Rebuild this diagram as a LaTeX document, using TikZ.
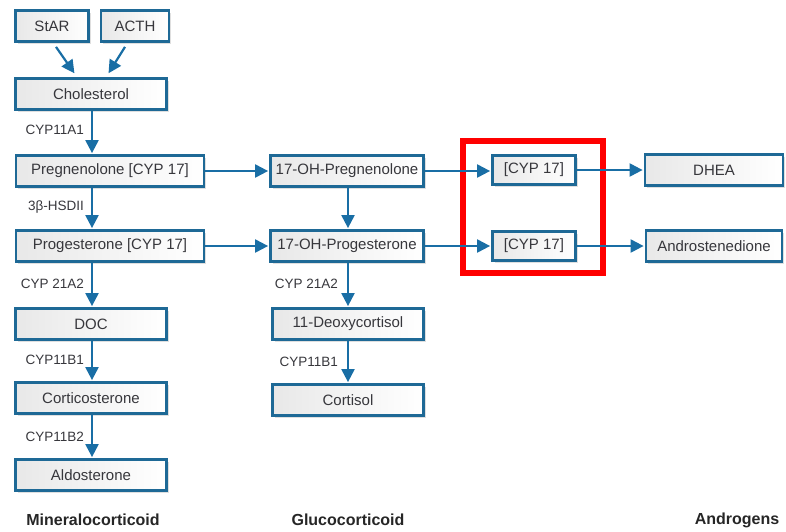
\documentclass[tikz,border=0pt]{standalone}
\usepackage{fontspec}
\setmainfont{Liberation Sans}
\usetikzlibrary{arrows.meta,shadows,calc}
\definecolor{boxblue}{RGB}{30,105,150}
\definecolor{arrblue}{RGB}{25,110,165}
\definecolor{txtgray}{RGB}{55,55,60}
\begin{document}
\begin{tikzpicture}[x=1pt,y=-1pt,
 box/.style={draw=boxblue,line width=2.8pt,left color=black!9,right color=white,
   minimum height=31pt,inner sep=0pt,text=txtgray,font=\fontsize{15}{17}\selectfont,
   drop shadow={opacity=0.25,shadow xshift=2pt,shadow yshift=-2pt}},
 enz/.style={text=txtgray,font=\fontsize{13.5}{15}\selectfont,anchor=east,inner sep=2pt},
 post/.style={-{Triangle[length=13pt,width=13pt]},draw=arrblue,line width=2.2pt,shorten >=1pt},
 group/.style={text=black!85,font=\bfseries\fontsize{16}{18}\selectfont}]

\useasboundingbox (0,0) rectangle (786,531);

% column 1
\node[box,minimum width=73pt] at (52,26) (star) {StAR};
\node[box,minimum width=68pt] at (135,26) (acth) {ACTH};
\node[box,minimum width=151pt] at (91,94) (chol) {Cholesterol};
\node[box,minimum width=188pt] at (110,171) (preg) {Pregnenolone [CYP 17]};
\node[box,minimum width=188pt] at (110,246) (prog) {Progesterone [CYP 17]};
\node[box,minimum width=151pt] at (91,324) (doc) {DOC};
\node[box,minimum width=151pt] at (91,398) (corticost) {Corticosterone};
\node[box,minimum width=151pt] at (91,475) (aldo) {Aldosterone};

% column 2
\node[box,minimum width=153pt] at (347,171) (ohpreg) {17-OH-Pregnenolone};
\node[box,minimum width=153pt] at (347,246) (ohprog) {17-OH-Progesterone};
\node[box,minimum width=151pt] at (348,324) (deoxy) {11-Deoxycortisol};
\node[box,minimum width=151pt] at (348,400) (cortisol) {Cortisol};

% column 3
\node[box,minimum width=83pt,minimum height=29pt] at (534,170) (cypa) {[CYP 17]};
\node[box,minimum width=83pt,minimum height=29pt] at (534,246) (cypb) {[CYP 17]};
\node[box,minimum width=138pt] at (714,170) (dhea) {DHEA};
\node[box,minimum width=136pt] at (714,246) (andro) {Androstenedione};

\draw[red,line width=6pt] (463,141) rectangle (603,273);

% arrows
\coordinate (s1) at ($(star.south)+(4,4)$);
\coordinate (a1) at ($(acth.south)+(-10,4)$);
\draw[post] (s1) -- ($(chol.north)+(-16,-3)$);
\draw[post] (a1) -- ($(chol.north)+(17,-3)$);
\foreach \a/\b in {chol/preg, preg/prog, prog/doc, doc/corticost, corticost/aldo}{
\draw[post] (\a.south -| 92,0) -- (\b.north -| 92,0);
}
\foreach \a/\b in {ohpreg/ohprog, ohprog/deoxy, deoxy/cortisol}{
\draw[post] (\a.south -| 348,0) -- (\b.north -| 348,0);
}
\foreach \a/\b in {preg/ohpreg, prog/ohprog, ohpreg/cypa, ohprog/cypb, cypa/dhea, cypb/andro}{
\draw[post] (\a.east) -- (\a.east -| \b.west);
}

% enzyme labels
\node[enz] at (86,130) (e1) {CYP11A1};
\node[enz] at (86,207) (e2) {3β-HSDII};
\node[enz] at (86,284) (e3) {CYP 21A2};
\node[enz] at (86,360) (e4) {CYP11B1};
\node[enz] at (86,437) (e5) {CYP11B2};
\node[enz] at (340,284) (e6) {CYP 21A2};
\node[enz] at (340,362) (e7) {CYP11B1};

% groups
\node[group] at (93,520) (gmin) {Mineralocorticoid};
\node[group] at (348,520) (gglu) {Glucocorticoid};
\node[group] at (737,520) (gand) {Androgens};

\end{tikzpicture}
\end{document}
